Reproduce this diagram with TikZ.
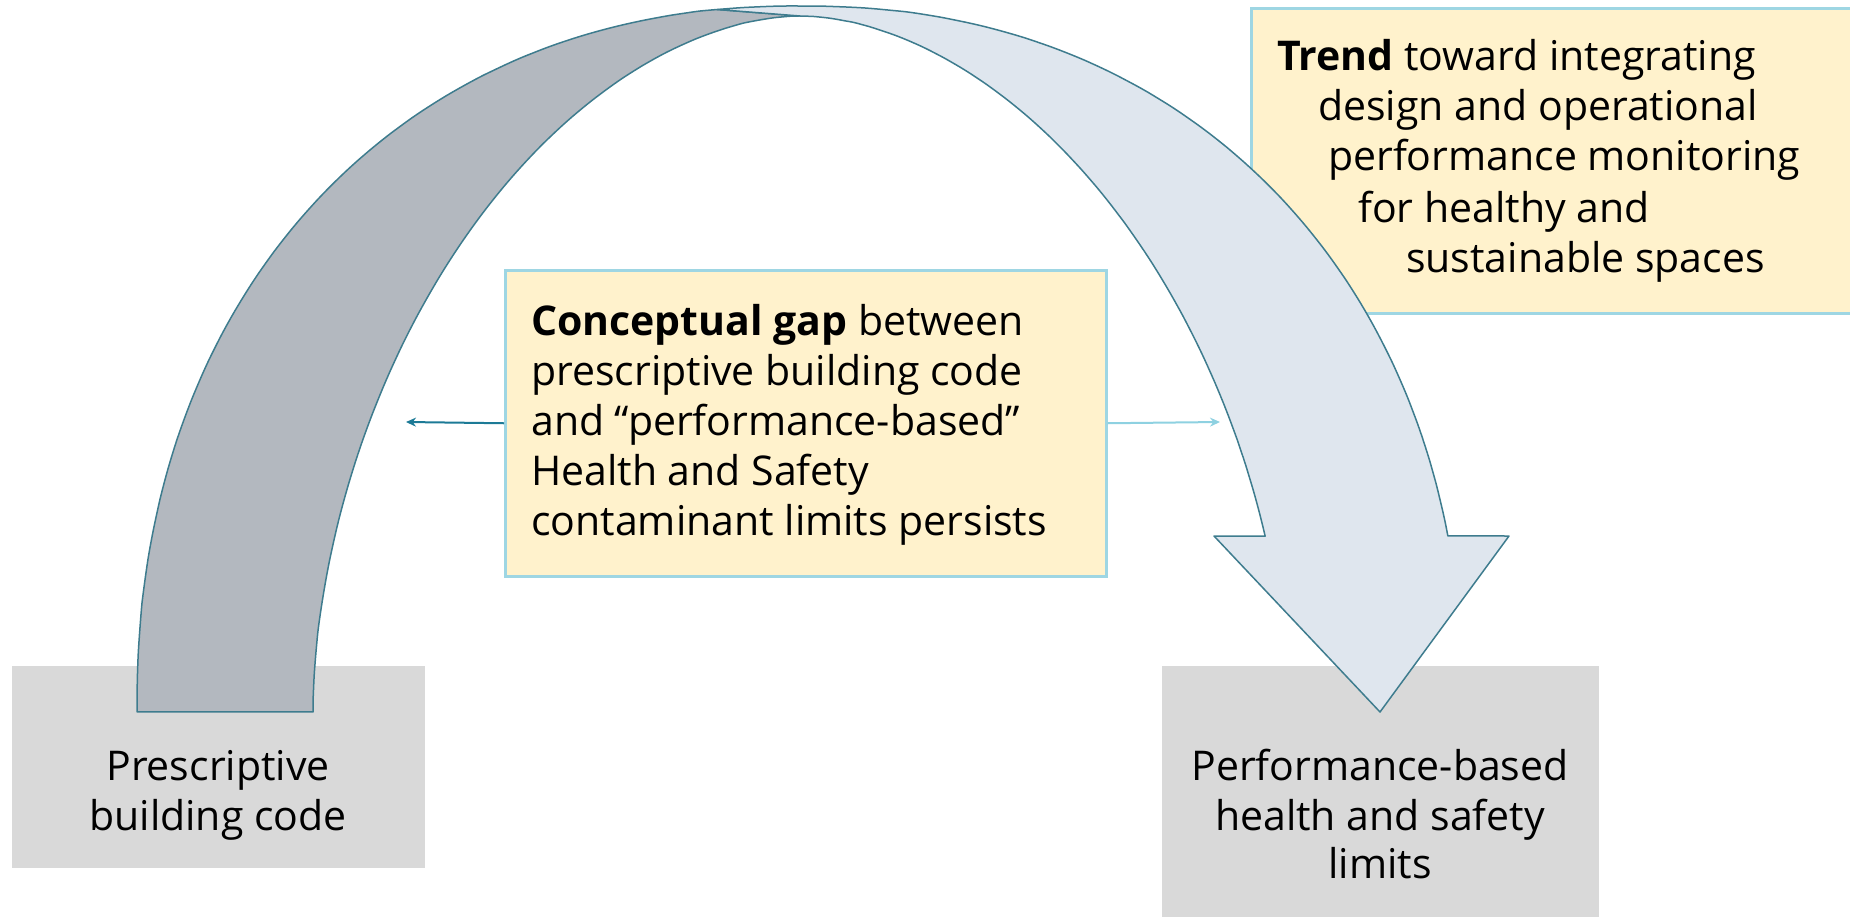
\documentclass[tikz,border=0pt]{standalone}
\usepackage{fontspec}
\setmainfont{Open Sans}
\usetikzlibrary{arrows.meta}
\definecolor{darkfill}{HTML}{B3B8BF}
\definecolor{lightfill}{HTML}{DFE6EE}
\definecolor{bandline}{HTML}{3E7C8E}
\definecolor{boxgray}{HTML}{D9D9D9}
\definecolor{noteyellow}{HTML}{FFF2CC}
\definecolor{noteborder}{HTML}{9ED6E3}
\definecolor{arrowdark}{HTML}{1C7A96}
\definecolor{arrowlight}{HTML}{8ED1E1}
\tikzset{
  declare function={sx(\t,\n)=sign(cos(\t))*pow(abs(cos(\t))+0.00001,2/\n);
                    sy(\t,\n)=pow(abs(sin(\t))+0.00001,2/\n);},
  graybox/.style={fill=boxgray, draw=none, inner sep=0pt, anchor=north west},
  notebox/.style={fill=noteyellow, draw=noteborder, line width=2.5pt, inner sep=0pt, anchor=north west},
  band/.style={draw=bandline, line width=1.5pt, line join=round},
  txt/.style={inner sep=0pt, font=\fontsize{41}{50}\selectfont},
  smallarrow/.style={line width=2pt, -{Stealth[length=10pt,width=9pt]}}
}
\begin{document}
\begin{tikzpicture}[x=1pt,y=-1pt]
\useasboundingbox (0,0) rectangle (1850,916);
% gray boxes
\node[graybox, minimum width=413pt, minimum height=202pt] (pbc) at (12,666) {};
\node[graybox, minimum width=437pt, minimum height=260pt] (pbl) at (1162,666) {};
% trend box
\node[notebox, minimum width=610pt, minimum height=305pt] (trend) at (1250,7) {};
% dark band
\path[band, fill=darkfill]
  plot[domain=180:96, samples=70, smooth] ({800+663*sx(\x,2.17)},{712-706*sy(\x,2.17)})
  -- plot[domain=90:180, samples=70, smooth] ({800+487*sx(\x,1.83)},{712-696*sy(\x,1.83)})
  -- cycle;
% light band with arrow head
\path[band, fill=lightfill]
  plot[domain=96:12.8, samples=80, smooth] ({800+663*sx(\x,2.17)},{712-706*sy(\x,2.17)})
  -- (1509,536) -- (1380,712) -- (1214,536)
  -- plot[domain=16.5:90, samples=70, smooth] ({800+487*sx(\x,1.83)},{712-696*sy(\x,1.83)})
  -- cycle;
% gap box
\node[notebox, minimum width=601pt, minimum height=306pt] (gap) at (504,269) {};
\coordinate (ltip) at (406,422);
\coordinate (rtip) at (1220,422);
\draw[smallarrow, arrowdark] (gap.west) -- (ltip);
\draw[smallarrow, arrowlight] (gap.east) -- (rtip);
% texts
\node[txt, anchor=base west] (g1) at (531,335) {\textbf{Conceptual gap} between};
\node[txt, anchor=base west] (g2) at (531,385) {prescriptive building code};
\node[txt, anchor=base west] (g3) at (531,435) {and “performance-based”};
\node[txt, anchor=base west] (g4) at (531,485) {Health and Safety};
\node[txt, anchor=base west] (g5) at (531,535) {contaminant limits persists};
\node[txt, anchor=base west] (t1) at (1277,70) {\textbf{Trend} toward integrating};
\node[txt, anchor=base west] (t2) at (1318,120) {design and operational};
\node[txt, anchor=base west] (t3) at (1328,170) {performance monitoring};
\node[txt, anchor=base west] (t4) at (1358,222) {for healthy and};
\node[txt, anchor=base west] (t5) at (1406,272) {sustainable spaces};
\node[txt, anchor=base] (p1) at (218,780) {Prescriptive};
\node[txt, anchor=base] (p2) at (218,830) {building code};
\node[txt, anchor=base] (q1) at (1380,780) {Performance-based};
\node[txt, anchor=base] (q2) at (1380,830) {health and safety};
\node[txt, anchor=base] (q3) at (1380,878) {limits};
\end{tikzpicture}
\end{document}
